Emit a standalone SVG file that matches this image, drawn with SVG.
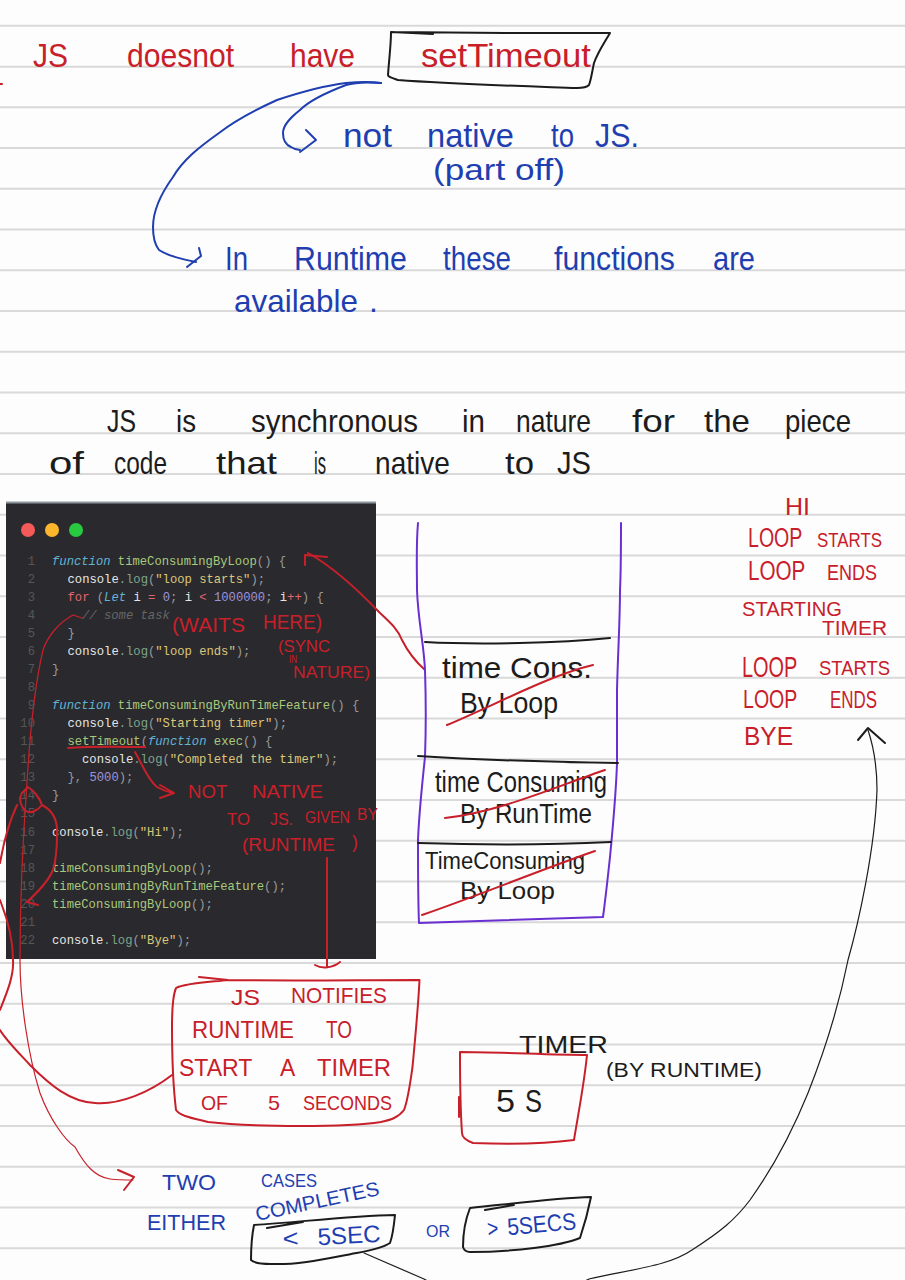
<svg xmlns="http://www.w3.org/2000/svg" width="905" height="1280" viewBox="0 0 905 1280">
<defs><style>
.rule{stroke:#d9d9d9;stroke-width:2;fill:none}
.pen{fill:none;stroke-linecap:round;stroke-linejoin:round;stroke-width:2}
.thin{stroke-width:1.2}
.rs{stroke:#c8202a}.bs{stroke:#1f3fb0}.ks{stroke:#1c1c1c}.ps{stroke:#6a2fd0}
.hand{font-family:"Liberation Sans",Arial,sans-serif}
.r{fill:#c8202a}.b{fill:#1f3fb0}.d{fill:#1c1c1c}
.code{font-family:"Liberation Mono","DejaVu Sans Mono",monospace;font-size:12.2px;fill:#e6e6e6}
.k{fill:#62b3d6;font-style:italic}.f{fill:#a9c97c}.s{fill:#dcc77c}.n{fill:#9d93dc}.o{fill:#e2646e}.p{fill:#9a9a9a}.m{fill:#7fa58a}
.c{fill:#666;font-style:italic}
.ln{font-family:"Liberation Mono",monospace;font-size:12.2px;fill:#565656;text-anchor:end}
</style></defs>
<rect width="905" height="1280" fill="#fdfdfd"/>
<g id="ruled-paper">
<path class="rule" d="M0 25.7H905M0 66.7H905M0 107.3H905M0 148H905M0 188.8H905M0 229.5H905M0 270.3H905M0 311H905M0 351.8H905M0 392.5H905M0 433.3H905M0 474H905M0 514.8H905M0 555.5H905M0 596.3H905M0 637H905M0 677.8H905M0 718.5H905M0 759.3H905M0 800H905M0 840.8H905M0 881.5H905M0 922.3H905M0 963H905M0 1003.8H905M0 1044.5H905M0 1085.3H905M0 1126H905M0 1166.8H905M0 1207.5H905M0 1248.3H905"/>
</g>

<g id="code-window">
<rect x="6" y="502" width="370" height="457" fill="#2a2a2e"/>
<rect x="6" y="501.500" width="370" height="2" fill="#8d969c"/>
<circle cx="28" cy="530" r="7" fill="#f45a58"/><circle cx="52" cy="530" r="7" fill="#fbb62c"/><circle cx="76" cy="530" r="7" fill="#28c840"/>
<g class="ln">
<text x="35" y="565">1</text><text x="35" y="583">2</text><text x="35" y="601">3</text><text x="35" y="619">4</text><text x="35" y="637">5</text><text x="35" y="655">6</text><text x="35" y="673">7</text><text x="35" y="691">8</text><text x="35" y="709">9</text><text x="35" y="727">10</text><text x="35" y="745">11</text><text x="35" y="763">12</text><text x="35" y="781">13</text><text x="35" y="799">14</text><text x="35" y="817">15</text><text x="35" y="836">16</text><text x="35" y="854">17</text><text x="35" y="872">18</text><text x="35" y="890">19</text><text x="35" y="908">20</text><text x="35" y="926">21</text><text x="35" y="944">22</text>
</g>
<g class="code">
<text x="52" y="565"><tspan class="k">function</tspan> <tspan class="f">timeConsumingByLoop</tspan><tspan class="p">() {</tspan></text>
<text x="67.500" y="583">console<tspan class="m">.log</tspan><tspan class="p">(</tspan><tspan class="s">"loop starts"</tspan><tspan class="p">);</tspan></text>
<text x="67.500" y="601"><tspan class="o">for</tspan> <tspan class="p">(</tspan><tspan class="k">Let</tspan> i <tspan class="o">=</tspan> <tspan class="n">0</tspan><tspan class="p">;</tspan> i <tspan class="o">&lt;</tspan> <tspan class="n">1000000</tspan><tspan class="p">;</tspan> i<tspan class="o">++</tspan><tspan class="p">) {</tspan></text>
<text x="82" y="619" class="c">// some task</text>
<text x="67.500" y="637" class="p">}</text>
<text x="67.500" y="655">console<tspan class="m">.log</tspan><tspan class="p">(</tspan><tspan class="s">"loop ends"</tspan><tspan class="p">);</tspan></text>
<text x="52" y="673" class="p">}</text>
<text x="52" y="709"><tspan class="k">function</tspan> <tspan class="f">timeConsumingByRunTimeFeature</tspan><tspan class="p">() {</tspan></text>
<text x="67.500" y="727">console<tspan class="m">.log</tspan><tspan class="p">(</tspan><tspan class="s">"Starting timer"</tspan><tspan class="p">);</tspan></text>
<text x="67.500" y="745"><tspan class="f">setTimeout</tspan><tspan class="p">(</tspan><tspan class="k">function</tspan> <tspan class="f">exec</tspan><tspan class="p">() {</tspan></text>
<text x="82" y="763">console<tspan class="m">.log</tspan><tspan class="p">(</tspan><tspan class="s">"Completed the timer"</tspan><tspan class="p">);</tspan></text>
<text x="67.500" y="781"><tspan class="p">},</tspan> <tspan class="n">5000</tspan><tspan class="p">);</tspan></text>
<text x="52" y="799" class="p">}</text>
<text x="52" y="836">console<tspan class="m">.log</tspan><tspan class="p">(</tspan><tspan class="s">"Hi"</tspan><tspan class="p">);</tspan></text>
<text x="52" y="872"><tspan class="f">timeConsumingByLoop</tspan><tspan class="p">();</tspan></text>
<text x="52" y="890"><tspan class="f">timeConsumingByRunTimeFeature</tspan><tspan class="p">();</tspan></text>
<text x="52" y="908"><tspan class="f">timeConsumingByLoop</tspan><tspan class="p">();</tspan></text>
<text x="52" y="944">console<tspan class="m">.log</tspan><tspan class="p">(</tspan><tspan class="s">"Bye"</tspan><tspan class="p">);</tspan></text>
</g>
</g>

<g id="connectors">
<path class="pen bs" d="M381 83C368 81 356 82 346 83C322 86 298 93 277 100C255 110 236 120 219 133C198 148 183 160 173 177C160 195 153 212 153 227C153 238 155 245 159 250C168 256 182 259 196 262"/>
<path class="pen bs" d="M199 248L201 256L187 267"/>
<path class="pen bs" d="M381 83C368 82 356 82 346 85C325 93 310 100 300 110C290 118 283 125 283 133C283 140 286 145 291 147C294 149 297 150 300 150"/>
<path class="pen bs" d="M306 130L316 140L300 152"/>
<path class="pen rs" d="M308 553C335 568 360 592 380 613C392 624 398 630 402 640C408 652 416 662 425 670"/>
<path class="pen rs" d="M305 565L305 555L327 557"/>
<path class="pen rs" d="M68 748C95 746 120 747 145 747"/>
<path class="pen rs" d="M135 752C142 764 148 780 157 787C162 790 168 792 173 793"/>
<path class="pen rs" d="M160 785L174 793L160 798"/>
<path class="pen rs" d="M327 858L327 966M315 965C322 969 333 968 340 962"/>
<path class="pen rs" d="M172 1075C150 1092 120 1105 95 1103C70 1102 50 1085 30 1065C18 1052 6 1040 0 1030"/>
<path class="pen rs" d="M0 1010C8 990 14 975 13 960C13 945 10 925 0 900"/>
<path class="pen rs" d="M0 863C4 840 10 820 17 805"/>
<path class="pen rs" d="M22 793L28 787C33 790 40 798 42 805C38 810 32 813 28 812C24 811 20 805 20 798Z"/>
<path class="pen rs" d="M42 805C52 810 58 820 57 835C57 850 56 860 53 870C48 882 38 892 27 902L38 905"/>
<path class="pen rs thin" d="M82 618L73 615C60 622 48 635 43 650C36 680 30 730 27 783C22 850 20 910 20 960C20 1000 28 1055 40 1093C50 1120 65 1140 75 1147C85 1165 95 1177 110 1179C118 1180 126 1180 133 1180"/>
<path class="pen rs" d="M118 1170L134 1177L124 1190"/>
<path class="pen ks thin" d="M364 1253L424 1279C450 1295 560 1295 589 1279C640 1268 670 1265 692 1250C720 1232 735 1220 750 1200C775 1165 795 1125 808 1093C825 1050 840 1000 848 960C858 925 875 850 877 790C877 765 873 745 868 730"/>
<path class="pen ks" d="M858 740L868 728L885 743"/>
<path class="pen rs" d="M0 84H2"/>
</g>

<g id="title-line">
<text class="hand r" y="67" font-size="34"><tspan x="33" textLength="35" lengthAdjust="spacingAndGlyphs">JS</tspan> <tspan x="127" textLength="107" lengthAdjust="spacingAndGlyphs">doesnot</tspan> <tspan x="290" textLength="65" lengthAdjust="spacingAndGlyphs">have</tspan></text>
</g>
<g id="settimeout-box">
<path class="pen ks" d="M391 32C460 33 540 33 610 33C603 45 598 52 594 63C592 72 591 80 589 85C586 88 582 88 577 88C520 86 450 84 398 80C392 78 388 77 388 75C389 60 391 45 391 32ZM391 32L433 34"/>
<text class="hand r" x="421" y="67" font-size="33" textLength="170" lengthAdjust="spacingAndGlyphs">setTimeout</text>
</g>
<g id="not-native-note">
<text class="hand b" y="147" font-size="33"><tspan x="343" textLength="49" lengthAdjust="spacingAndGlyphs">not</tspan> <tspan x="427" textLength="87" lengthAdjust="spacingAndGlyphs">native</tspan> <tspan x="551" textLength="23" lengthAdjust="spacingAndGlyphs">to</tspan> <tspan x="595" textLength="44" lengthAdjust="spacingAndGlyphs">JS.</tspan></text>
<text class="hand b" x="433" y="180" font-size="30" textLength="132" lengthAdjust="spacingAndGlyphs">(part off)</text>
</g>
<g id="runtime-note">
<text class="hand b" y="270" font-size="33"><tspan x="225" textLength="23" lengthAdjust="spacingAndGlyphs">In</tspan> <tspan x="294" textLength="113" lengthAdjust="spacingAndGlyphs">Runtime</tspan> <tspan x="443" textLength="68" lengthAdjust="spacingAndGlyphs">these</tspan> <tspan x="554" textLength="121" lengthAdjust="spacingAndGlyphs">functions</tspan> <tspan x="713" textLength="42" lengthAdjust="spacingAndGlyphs">are</tspan></text>
<text class="hand b" y="312" font-size="32"><tspan x="234" textLength="124" lengthAdjust="spacingAndGlyphs">available</tspan> <tspan x="369">.</tspan></text>
</g>
<g id="synchronous-note">
<text class="hand d" y="432" font-size="32"><tspan x="107" textLength="29" lengthAdjust="spacingAndGlyphs">JS</tspan> <tspan x="176" textLength="20" lengthAdjust="spacingAndGlyphs">is</tspan> <tspan x="251" textLength="167" lengthAdjust="spacingAndGlyphs">synchronous</tspan> <tspan x="462" textLength="23" lengthAdjust="spacingAndGlyphs">in</tspan> <tspan x="516" textLength="75" lengthAdjust="spacingAndGlyphs">nature</tspan> <tspan x="632" textLength="43" lengthAdjust="spacingAndGlyphs">for</tspan> <tspan x="704" textLength="46" lengthAdjust="spacingAndGlyphs">the</tspan> <tspan x="785" textLength="66" lengthAdjust="spacingAndGlyphs">piece</tspan></text>
<text class="hand d" y="474" font-size="32"><tspan x="49" textLength="35" lengthAdjust="spacingAndGlyphs">of</tspan> <tspan x="114" textLength="53" lengthAdjust="spacingAndGlyphs">code</tspan> <tspan x="216" textLength="61" lengthAdjust="spacingAndGlyphs">that</tspan> <tspan x="314" textLength="12" lengthAdjust="spacingAndGlyphs">is</tspan> <tspan x="375" textLength="75" lengthAdjust="spacingAndGlyphs">native</tspan> <tspan x="505" textLength="29" lengthAdjust="spacingAndGlyphs">to</tspan> <tspan x="557" textLength="34" lengthAdjust="spacingAndGlyphs">JS</tspan></text>
</g>

<g id="call-stack">
<path class="pen ps" d="M418 523C416 545 417 570 417 590C418 620 424 645 425 670C426 700 426 730 425 757C422 785 419 815 418 840C418 870 418 900 419 923L603 917C606 895 608 875 610 857C613 825 616 795 617 763C617 735 617 710 617 690C618 650 620 620 620 590C621 570 621 545 621 523"/>
</g>
<g id="stack-frame-top">
<path class="pen ks" d="M425 642C480 645 560 643 610 638"/>
<text class="hand d" x="442" y="678" font-size="29" textLength="150" lengthAdjust="spacingAndGlyphs">time Cons.</text>
<text class="hand d" x="460" y="713" font-size="29" textLength="98" lengthAdjust="spacingAndGlyphs">By Loop</text>
<path class="pen rs" d="M447 725C495 705 550 675 593 665"/>
</g>
<g id="stack-frame-middle">
<path class="pen ks" d="M418 756C480 760 550 762 618 763"/>
<text class="hand d" x="435" y="792" font-size="29" textLength="172" lengthAdjust="spacingAndGlyphs">time Consuming</text>
<text class="hand d" x="460" y="823" font-size="27" textLength="132" lengthAdjust="spacingAndGlyphs">By RunTime</text>
<path class="pen rs" d="M445 818C500 812 560 785 605 770"/>
</g>
<g id="stack-frame-bottom">
<path class="pen ks" d="M418 843C480 845 550 845 611 842"/>
<text class="hand d" x="425" y="869" font-size="23" textLength="160" lengthAdjust="spacingAndGlyphs">TimeConsuming</text>
<text class="hand d" x="460" y="899" font-size="24" textLength="95" lengthAdjust="spacingAndGlyphs">By Loop</text>
<path class="pen rs" d="M422 915C480 895 540 870 595 851"/>
</g>

<g id="console-output">
<text class="hand r" x="785" y="515" font-size="24" textLength="25" lengthAdjust="spacingAndGlyphs">HI</text>
<text class="hand r" y="547" font-size="27"><tspan x="748" textLength="54" lengthAdjust="spacingAndGlyphs">LOOP</tspan> <tspan x="817" font-size="21" textLength="65" lengthAdjust="spacingAndGlyphs">STARTS</tspan></text>
<text class="hand r" y="580" font-size="27"><tspan x="748" textLength="57" lengthAdjust="spacingAndGlyphs">LOOP</tspan> <tspan x="827" font-size="22" textLength="50" lengthAdjust="spacingAndGlyphs">ENDS</tspan></text>
<text class="hand r" x="742" y="616" font-size="20" textLength="100" lengthAdjust="spacingAndGlyphs">STARTING</text>
<text class="hand r" x="822" y="635" font-size="21" textLength="65" lengthAdjust="spacingAndGlyphs">TIMER</text>
<text class="hand r" y="677" font-size="30"><tspan x="742" textLength="55" lengthAdjust="spacingAndGlyphs">LOOP</tspan> <tspan x="819" y="675" font-size="21" textLength="71" lengthAdjust="spacingAndGlyphs">STARTS</tspan></text>
<text class="hand r" y="708" font-size="26"><tspan x="743" textLength="54" lengthAdjust="spacingAndGlyphs">LOOP</tspan> <tspan x="830" font-size="24" textLength="47" lengthAdjust="spacingAndGlyphs">ENDS</tspan></text>
<text class="hand r" x="744" y="745" font-size="26" textLength="49" lengthAdjust="spacingAndGlyphs">BYE</text>
</g>

<g id="code-annotations">
<text class="hand r" y="632" font-size="21"><tspan x="172" textLength="73" lengthAdjust="spacingAndGlyphs">(WAITS</tspan> <tspan x="263" y="629" textLength="59" lengthAdjust="spacingAndGlyphs">HERE)</tspan></text>
<text class="hand r" x="278" y="652" font-size="16" textLength="52" lengthAdjust="spacingAndGlyphs">(SYNC</text>
<text class="hand r" x="289" y="663" font-size="10" textLength="8" lengthAdjust="spacingAndGlyphs">IN</text>
<text class="hand r" x="293" y="678" font-size="16" textLength="77" lengthAdjust="spacingAndGlyphs">NATURE)</text>
<text class="hand r" y="798" font-size="19"><tspan x="188" textLength="39" lengthAdjust="spacingAndGlyphs">NOT</tspan> <tspan x="252" textLength="71" lengthAdjust="spacingAndGlyphs">NATIVE</tspan></text>
<text class="hand r" y="825" font-size="17"><tspan x="227" textLength="23" lengthAdjust="spacingAndGlyphs">TO</tspan> <tspan x="270" textLength="23" lengthAdjust="spacingAndGlyphs">JS.</tspan> <tspan x="305" y="823" textLength="45" lengthAdjust="spacingAndGlyphs">GIVEN</tspan> <tspan x="357" y="820" textLength="21" lengthAdjust="spacingAndGlyphs">BY</tspan></text>
<text class="hand r" y="851" font-size="18"><tspan x="242" textLength="93" lengthAdjust="spacingAndGlyphs">(RUNTIME</tspan> <tspan x="352" y="848">)</tspan></text>
</g>

<g id="js-notifies-box">
<path class="pen rs" d="M199 977L228 980C290 981 360 980 419.500 980C418 1010 415 1040 412.500 1067C410 1085 408 1100 404 1110C398 1118 390 1120 381 1122C355 1126 325 1126 300 1126C270 1126 235 1125 208 1122C192 1118 180 1116 176 1110C173 1085 172 1055 172 1027C172 1010 173 995 176 988C185 983 210 982 228 980"/>
<text class="hand r" y="1005" font-size="22"><tspan x="231" textLength="29" lengthAdjust="spacingAndGlyphs">JS</tspan> <tspan x="291" y="1003" textLength="96" lengthAdjust="spacingAndGlyphs">NOTIFIES</tspan></text>
<text class="hand r" y="1038" font-size="24"><tspan x="192" textLength="102" lengthAdjust="spacingAndGlyphs">RUNTIME</tspan> <tspan x="326" textLength="26" lengthAdjust="spacingAndGlyphs">TO</tspan></text>
<text class="hand r" y="1076" font-size="23"><tspan x="179" textLength="73" lengthAdjust="spacingAndGlyphs">START</tspan> <tspan x="280" textLength="14" lengthAdjust="spacingAndGlyphs">A</tspan> <tspan x="317" textLength="74" lengthAdjust="spacingAndGlyphs">TIMER</tspan></text>
<text class="hand r" y="1110" font-size="21"><tspan x="201" textLength="27" lengthAdjust="spacingAndGlyphs">OF</tspan> <tspan x="268" textLength="12" lengthAdjust="spacingAndGlyphs">5</tspan> <tspan x="303" textLength="89" lengthAdjust="spacingAndGlyphs">SECONDS</tspan></text>
</g>

<g id="timer-box">
<path class="pen rs" d="M460 1052C500 1052 550 1055 587 1055C584 1085 578 1115 574 1140C545 1144 500 1144 473 1143C465 1140 462 1137 462 1133C460 1105 460 1075 460 1052ZM459 1097V1117"/>
<text class="hand d" x="519" y="1053" font-size="24" textLength="89" lengthAdjust="spacingAndGlyphs">TIMER</text>
<text class="hand d" x="606" y="1077" font-size="20" textLength="156" lengthAdjust="spacingAndGlyphs">(BY RUNTIME)</text>
<text class="hand d" y="1112" font-size="32"><tspan x="496" textLength="19" lengthAdjust="spacingAndGlyphs">5</tspan> <tspan x="525" textLength="17" lengthAdjust="spacingAndGlyphs">S</tspan></text>
</g>

<g id="two-cases-note">
<text class="hand b" y="1190" font-size="22"><tspan x="162" textLength="54" lengthAdjust="spacingAndGlyphs">TWO</tspan> <tspan x="261" y="1187" font-size="19" textLength="56" lengthAdjust="spacingAndGlyphs">CASES</tspan></text>
<text class="hand b" x="147" y="1230" font-size="22" textLength="79" lengthAdjust="spacingAndGlyphs">EITHER</text>
<text class="hand b" x="257" y="1221" font-size="20" textLength="126" lengthAdjust="spacingAndGlyphs" transform="rotate(-12 257 1221)">COMPLETES</text>
<text class="hand b" x="426" y="1237" font-size="17" textLength="24" lengthAdjust="spacingAndGlyphs">OR</text>
</g>
<g id="less-than-box">
<path class="pen ks" d="M254 1225C300 1222 350 1216 395 1215C394 1225 393 1235 390 1243C380 1250 360 1252 346 1255C320 1260 295 1265 271 1264C260 1264 253 1262 251 1260C251 1248 252 1235 254 1225ZM267 1228L303 1222"/>
<text class="hand b" y="1247" font-size="24" transform="rotate(-3 283 1247)"><tspan x="283" textLength="16" lengthAdjust="spacingAndGlyphs">&lt;</tspan> <tspan x="318" textLength="63" lengthAdjust="spacingAndGlyphs">5SEC</tspan></text>
</g>
<g id="greater-than-box">
<path class="pen ks" d="M470 1208C510 1204 555 1198 591 1197C588 1212 584 1226 580 1238C565 1244 550 1246 534 1248C510 1251 490 1252 470 1252C466 1252 464 1250 463 1247C463 1232 466 1218 470 1208ZM485 1210L514 1205"/>
<text class="hand b" y="1237" font-size="24" transform="rotate(-5 488 1237)"><tspan x="488" textLength="11" lengthAdjust="spacingAndGlyphs">&gt;</tspan> <tspan x="508" textLength="69" lengthAdjust="spacingAndGlyphs">5SECS</tspan></text>
</g>
</svg>
